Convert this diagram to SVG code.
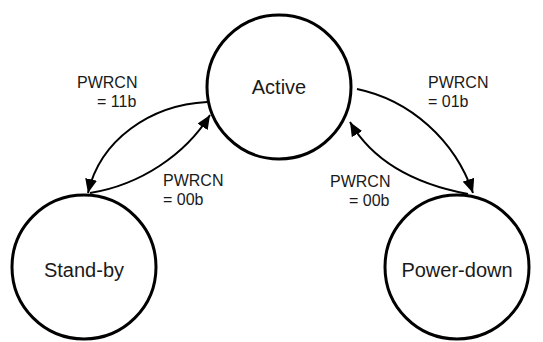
<svg xmlns="http://www.w3.org/2000/svg" width="543" height="342" viewBox="0 0 543 342">
<style>
.node{fill:#fff;stroke:#000;stroke-width:3}
.nl{font-family:"Liberation Sans",Arial,sans-serif;font-size:20px;fill:#1a1a1a;text-anchor:middle}
.el{font-family:"Liberation Sans",Arial,sans-serif;font-size:16px;fill:#1a1a1a}
.edge{fill:none;stroke:#000;stroke-width:2}
</style>
<defs>
<marker id="arr" viewBox="0 0 14 12" refX="14" refY="6" markerWidth="14" markerHeight="12" markerUnits="userSpaceOnUse" orient="auto">
<path d="M0,0 L14,6 L0,12 Z" fill="#000"/>
</marker>
</defs>
<rect width="543" height="342" fill="#fff"/>
<g id="edges">
<path class="edge" d="M207,102 C150,105 100,140 88,193" marker-end="url(#arr)"/>
<path class="edge" d="M90,193 C140,185 185,155 210,115" marker-end="url(#arr)"/>
<path class="edge" d="M357,89 C410,100 455,140 473,193" marker-end="url(#arr)"/>
<path class="edge" d="M468,194 C420,185 375,165 350,122" marker-end="url(#arr)"/>
</g>
<g id="node-active">
<circle class="node" cx="279" cy="87" r="72"/>
<text class="nl" x="279" y="94">Active</text>
</g>
<g id="node-standby">
<circle class="node" cx="84" cy="267" r="72"/>
<text class="nl" x="84" y="277">Stand-by</text>
</g>
<g id="node-powerdown">
<circle class="node" cx="457" cy="267" r="72"/>
<text class="nl" x="457" y="277">Power-down</text>
</g>
<g id="labels">
<text class="el" x="77" y="88">PWRCN</text>
<text class="el" x="97" y="107">= 11b</text>
<text class="el" x="163" y="186">PWRCN</text>
<text class="el" x="163" y="205">= 00b</text>
<text class="el" x="330" y="187">PWRCN</text>
<text class="el" x="349" y="206">= 00b</text>
<text class="el" x="428" y="88">PWRCN</text>
<text class="el" x="428" y="107">= 01b</text>
</g>
</svg>
